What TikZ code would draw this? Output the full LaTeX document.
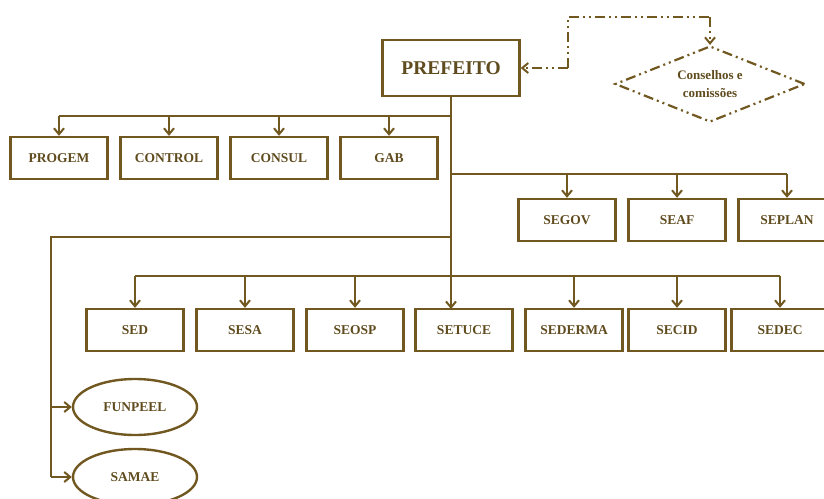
\documentclass[tikz,border=0pt]{standalone}
\usepackage{fontspec}
\setmainfont{Liberation Serif}
\usetikzlibrary{arrows.meta,shapes.geometric}
\definecolor{brn}{RGB}{112,88,32}
\definecolor{brnt}{RGB}{95,75,30}
\begin{document}
\begin{tikzpicture}[x=1pt,y=-1pt,
  box/.style={draw=brn,line width=2.4pt,minimum width=97pt,minimum height=42pt,inner sep=0pt,font=\bfseries\fontsize{13.5}{13.5}\selectfont,text=brnt},
  oval/.style={draw=brn,line width=2.4pt,ellipse,minimum width=124pt,minimum height=56pt,inner sep=0pt,font=\bfseries\fontsize{13.5}{13.5}\selectfont,text=brnt},
  conn/.style={draw=brn,line width=2.2pt},
  tip/.style={-{Straight Barb[length=6pt,width=10pt,line width=2pt]}},
  arr/.style={conn,tip},
  dd/.style={draw=brn,line width=2.2pt,dash pattern=on 10pt off 4pt on 2pt off 4pt on 2pt off 4pt}
]
\useasboundingbox (0,0) rectangle (824,498);
\node[box,minimum width=137pt,minimum height=56pt,font=\bfseries\fontsize{19.5}{19.5}\selectfont] (pref) at (451,68) {PREFEITO};
\node[diamond,aspect=2.5,dd,minimum width=190pt,minimum height=76pt,inner sep=0pt,align=center,font=\bfseries\fontsize{13}{18}\selectfont,text=brnt] (cons) at (710,84) {Conselhos e\\comissões};
% row 1
\node[box] (progem) at (59,158) {PROGEM};
\node[box] (control) at (169,158) {CONTROL};
\node[box] (consul) at (279,158) {CONSUL};
\node[box] (gab) at (389,158) {GAB};
% row 2
\node[box] (segov) at (567,220) {SEGOV};
\node[box] (seaf) at (677,220) {SEAF};
\node[box] (seplan) at (787,220) {SEPLAN};
% row 3
\node[box] (sed) at (135,330) {SED};
\node[box] (sesa) at (245,330) {SESA};
\node[box] (seosp) at (355,330) {SEOSP};
\node[box] (setuce) at (464,330) {SETUCE};
\node[box] (sederma) at (574,330) {SEDERMA};
\node[box] (secid) at (677,330) {SECID};
\node[box] (sedec) at (780,330) {SEDEC};
% ovals
\node[oval] (funpeel) at (135,407) {FUNPEEL};
\node[oval] (samae) at (135,477) {SAMAE};
% coordinates
\coordinate (t1) at (451,116);
\coordinate (t2) at (451,174);
\coordinate (t3) at (451,237);
\coordinate (t4) at (451,276);
\coordinate (lb) at (51,237);
% trunk
\draw[conn] (pref.south) -- (t4);
% row 1
\draw[conn] (t1) -- (59,116);
\draw[arr] (59,116) -- (progem.north);
\draw[arr] (169,116) -- (control.north);
\draw[arr] (279,116) -- (consul.north);
\draw[arr] (389,116) -- (gab.north);
% row 2
\draw[conn] (t2) -- (787,174);
\draw[arr] (567,174) -- (segov.north);
\draw[arr] (677,174) -- (seaf.north);
\draw[arr] (787,174) -- (seplan.north);
% row 3
\draw[conn] (135,276) -- (780,276);
\draw[arr] (135,276) -- (sed.north);
\draw[arr] (245,276) -- (sesa.north);
\draw[arr] (355,276) -- (seosp.north);
\draw[arr] (451,276) -- (451,309);
\draw[arr] (574,276) -- (sederma.north);
\draw[arr] (677,276) -- (secid.north);
\draw[arr] (780,276) -- (sedec.north);
% left branch
\draw[conn,line width=1.6pt] (t3) -- (lb) -- (51,477);
\draw[conn,line width=1.6pt,tip] (51,407) -- (funpeel.west);
\draw[conn,line width=1.6pt,tip] (51,477) -- (samae.west);
% dash-dot link
\draw[dd,tip] (568,68) -- (pref.east);
\draw[dd] (568,68) -- (568,17) -- (710,17);
\draw[dd,tip] (710,17) -- (cons.north);
\end{tikzpicture}
\end{document}
